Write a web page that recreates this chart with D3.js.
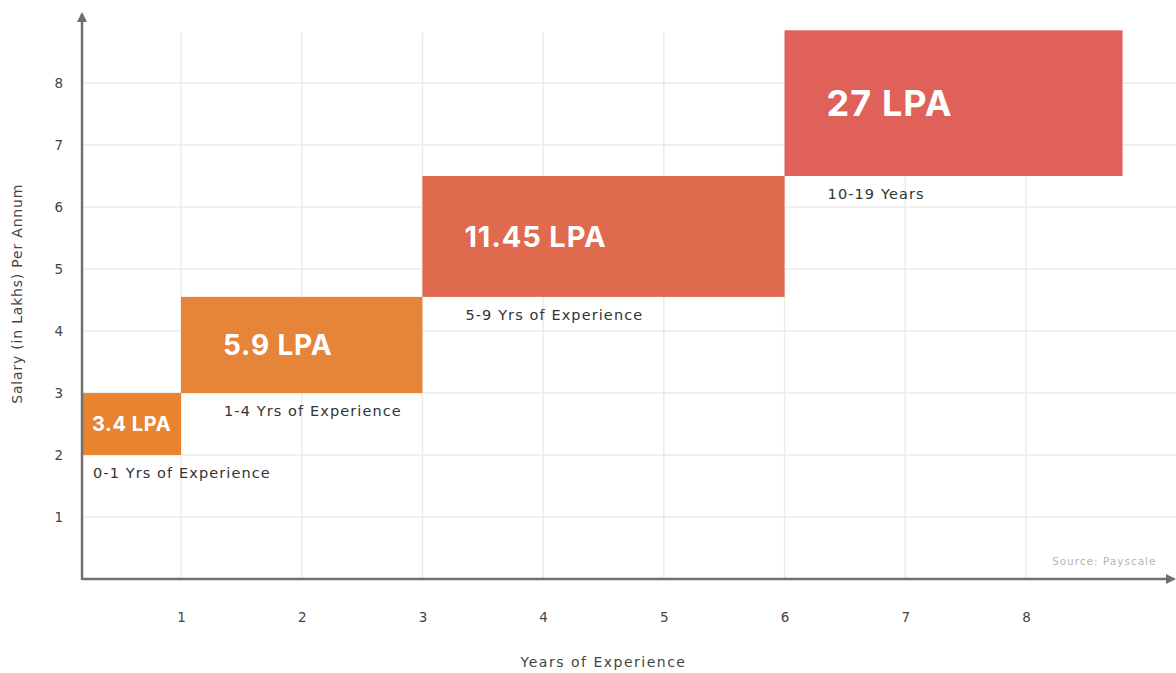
<!DOCTYPE html>
<html>
<head>
<meta charset="utf-8">
<script src="https://cdn.jsdelivr.net/npm/d3@7"></script>
<style>
  body { margin: 0; background: #fff; }
  svg { display: block; font-family: "DejaVu Sans", sans-serif; }
</style>
</head>
<body>
<svg id="chart" width="1176" height="673"></svg>
<script>
// data
const bandLabels = ["0-1 Yrs of Experience", "1-4 Yrs of Experience", "5-9 Yrs of Experience", "10-19 Years"];
const salaryLabels = ["3.4 LPA", "5.9 LPA", "11.45 LPA", "27 LPA"];
const yearStart = [0.18, 1, 3, 6];
const yearEnd = [1, 3, 6, 8.8];
const salaryLow = [2, 3, 4.55, 6.5];
const salaryHigh = [3, 4.55, 6.5, 8.85];
const boxColors = ["#e8832f", "#e6843a", "#df6a4d", "#e0605a"];
const valueFontSize = [20, 28, 29, 36];
const xTicks = [1, 2, 3, 4, 5, 6, 7, 8];
const yTicks = [1, 2, 3, 4, 5, 6, 7, 8];

const width = 1176;
const height = 673;

const svg = d3.select("#chart");

// scales - 1 year is ~121px, 1 lakh ~62px
const x = d3.scaleLinear().domain([0, 8]).range([60.3, 1026]);
const y = d3.scaleLinear().domain([0, 8]).range([579, 83]);

const x0 = x(0.18); // where the y axis sits
const y0 = y(0);

// arrow head for the axes
svg.append("defs").append("marker")
    .attr("id", "arrow")
    .attr("viewBox", "0 0 10 10")
    .attr("refX", 8)
    .attr("refY", 5)
    .attr("markerWidth", 4)
    .attr("markerHeight", 4)
    .attr("orient", "auto")
    .append("path")
    .attr("d", "M0,0 L10,5 L0,10 z")
    .attr("fill", "#6f6f6f");

// grid
const grid = svg.append("g").attr("class", "grid");
grid.selectAll("line.v")
    .data(xTicks)
    .enter().append("line")
    .attr("class", "v")
    .attr("x1", d => x(d)).attr("x2", d => x(d))
    .attr("y1", y(8.82)).attr("y2", y0)
    .attr("stroke", "#ebebeb")
    .attr("stroke-width", 1.5);

grid.selectAll("line.h")
    .data(yTicks)
    .enter().append("line")
    .attr("class", "h")
    .attr("x1", x0).attr("x2", width)
    .attr("y1", d => y(d)).attr("y2", d => y(d))
    .attr("stroke", "#ebebeb")
    .attr("stroke-width", 1.5);

// boxes
const boxes = svg.append("g").attr("class", "boxes")
    .selectAll("g")
    .data(bandLabels.map((d, i) => i))
    .enter().append("g");

boxes.append("rect")
    .attr("x", i => x(yearStart[i]))
    .attr("y", i => y(salaryHigh[i]))
    .attr("width", i => x(yearEnd[i]) - x(yearStart[i]))
    .attr("height", i => y(salaryLow[i]) - y(salaryHigh[i]))
    .attr("fill", i => boxColors[i]);

// small box gets a small indent, the rest sit ~42px in
const pad = i => (x(yearEnd[i]) - x(yearStart[i]) < 150 ? 10 : 42);

boxes.append("text")
    .attr("x", i => x(yearStart[i]) + pad(i))
    .attr("y", i => (y(salaryHigh[i]) + y(salaryLow[i])) / 2)
    .attr("dy", "0.36em")
    .attr("font-family", "Inter, sans-serif")
    .attr("font-size", i => valueFontSize[i] + "px")
    .attr("font-weight", 700)
    .attr("letter-spacing", "0.03em")
    .attr("fill", "#fff")
    .text(i => salaryLabels[i]);

boxes.append("text")
    .attr("x", i => x(yearStart[i]) + pad(i) + 1)
    .attr("y", i => y(salaryLow[i]) + 23)
    .attr("font-size", "14.5px")
    .attr("letter-spacing", "1.1px")
    .attr("fill", "#333")
    .text(i => bandLabels[i]);

// axes (tick labels only, lines drawn by hand with arrows)
const xAxis = svg.append("g")
    .attr("transform", `translate(0,${y0 + 30})`)
    .call(d3.axisBottom(x).tickValues(xTicks).tickSize(0).tickFormat(d3.format("d")));
xAxis.select(".domain").remove();
xAxis.selectAll("text").attr("font-size", "13.5px").attr("fill", "#444").attr("font-family", "DejaVu Sans, sans-serif");

const yAxis = svg.append("g")
    .attr("transform", `translate(${x0 - 16},0)`)
    .call(d3.axisLeft(y).tickValues(yTicks).tickSize(0).tickFormat(d3.format("d")));
yAxis.select(".domain").remove();
yAxis.selectAll("text").attr("font-size", "13.5px").attr("fill", "#444").attr("font-family", "DejaVu Sans, sans-serif");

svg.append("line")
    .attr("x1", x0).attr("x2", width - 2)
    .attr("y1", y0).attr("y2", y0)
    .attr("stroke", "#6f6f6f")
    .attr("stroke-width", 2.5)
    .attr("marker-end", "url(#arrow)");

svg.append("line")
    .attr("x1", x0).attr("x2", x0)
    .attr("y1", y0 + 1).attr("y2", 14)
    .attr("stroke", "#6f6f6f")
    .attr("stroke-width", 2.5)
    .attr("marker-end", "url(#arrow)");

// axis titles
svg.append("text")
    .attr("x", x(4.5))
    .attr("y", 667)
    .attr("text-anchor", "middle")
    .attr("font-size", "14px")
    .attr("letter-spacing", "1.5px")
    .attr("fill", "#444")
    .text("Years of Experience");

svg.append("text")
    .attr("transform", `translate(22,${y(4.6)}) rotate(-90)`)
    .attr("text-anchor", "middle")
    .attr("font-size", "14px")
    .attr("letter-spacing", "0.8px")
    .attr("fill", "#444")
    .text("Salary (in Lakhs) Per Annum");

// source note
svg.append("text")
    .attr("x", 1052)
    .attr("y", 565)
    .attr("font-size", "10.5px")
    .attr("letter-spacing", "1px")
    .attr("fill", "#b5b5b5")
    .text("Source: Payscale");
</script>
</body>
</html>
